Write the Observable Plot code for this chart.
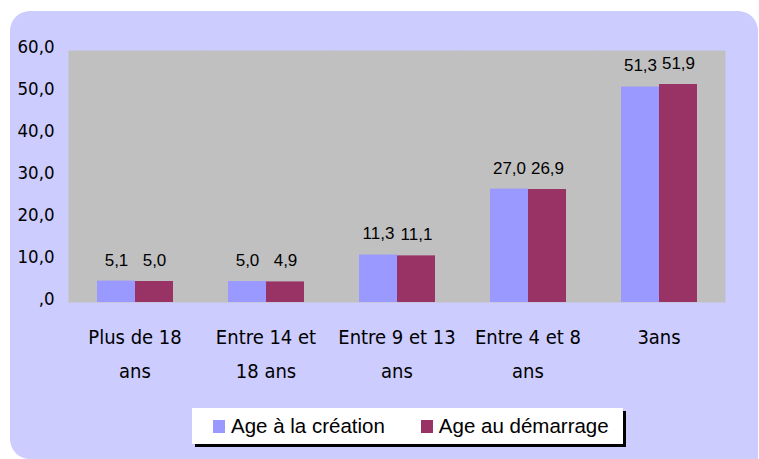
<!DOCTYPE html>
<html><head><meta charset="utf-8">
<script src="https://cdn.jsdelivr.net/npm/d3@7"></script>
<script src="https://cdn.jsdelivr.net/npm/@observablehq/plot@0.6"></script>
<style>
html,body{margin:0;padding:0;background:#fff;width:759px;height:459px;overflow:hidden;}
#bg{position:absolute;left:10px;top:11px;width:748px;height:448px;background:#CCCCFF;border-radius:20px 20px 0 20px;}
#chart{position:absolute;left:0;top:0;}
#legend{position:absolute;left:192px;top:408px;width:431px;height:36px;background:#fff;box-shadow:3px 3px 0 #000;
  font-family:"Liberation Sans",Arial,sans-serif;font-size:20.5px;color:#000;display:flex;align-items:center;padding-left:21px;box-sizing:border-box;gap:36px;}
.item{display:flex;align-items:center;gap:6px;}
.sw{width:12px;height:13px;display:inline-block;}
</style>
</head><body>
<div id="bg"></div>
<div id="chart"></div>
<div id="legend"></div>
<script>
const categories = ["Plus de 18\nans", "Entre 14 et\n18 ans", "Entre 9 et 13\nans", "Entre 4 et 8\nans", "3ans"];
const series = ["Age à la création", "Age au démarrage"];
const creation = [5.1, 5.0, 11.3, 27.0, 51.3];
const demarrage = [5.0, 4.9, 11.1, 26.9, 51.9];
const yTicks = [0, 10, 20, 30, 40, 50, 60];
const colors = ["#9999FF", "#993366"];

const data = categories.flatMap((c, i) => [
  {cat: c, s: series[0], v: creation[i]},
  {cat: c, s: series[1], v: demarrage[i]}
]);
const fmt = v => v.toFixed(1).replace(".", ",").replace(/^0,/, ",");

const chart = Plot.plot({
  width: 759, height: 459,
  marginLeft: 68, marginRight: 35, marginTop: 50, marginBottom: 157,
  style: {background: "transparent", fontFamily: "'DejaVu Sans Condensed', 'DejaVu Sans', sans-serif", color: "#000", overflow: "visible"},
  fx: {domain: categories, padding: 0, label: null},
  x: {domain: series, paddingInner: 0, paddingOuter: 0.704, axis: null},
  y: {domain: [0, 60], axis: null},
  color: {domain: series, range: colors},
  marks: [
    Plot.frame({fill: "#C0C0C0", stroke: "none", insetLeft: -1, insetRight: -1}),
    Plot.barY(data, {fx: "cat", x: "s", y: "v", fill: "s"}),
    Plot.text(data, {fx: "cat", x: "s", y: "v", text: d => fmt(d.v), dy: -21, fontSize: 17, fontFamily: "'Liberation Sans', Arial, sans-serif", fill: "#000"}),
    Plot.axisY({ticks: yTicks, tickFormat: fmt, tickSize: 0, tickPadding: 15, fontSize: 18.5, dy: -3, label: null}),
    Plot.axisFx({anchor: "bottom", tickSize: 0, tickPadding: 17, fontSize: 20, lineHeight: 1.7, label: null})
  ]
});
document.getElementById("chart").appendChild(chart);

const legend = document.getElementById("legend");
series.forEach((s, i) => {
  const it = document.createElement("div");
  it.className = "item";
  const sw = document.createElement("span");
  sw.className = "sw";
  sw.style.background = colors[i];
  const t = document.createElement("span");
  t.textContent = s;
  it.appendChild(sw); it.appendChild(t);
  legend.appendChild(it);
});
</script>
</body></html>
